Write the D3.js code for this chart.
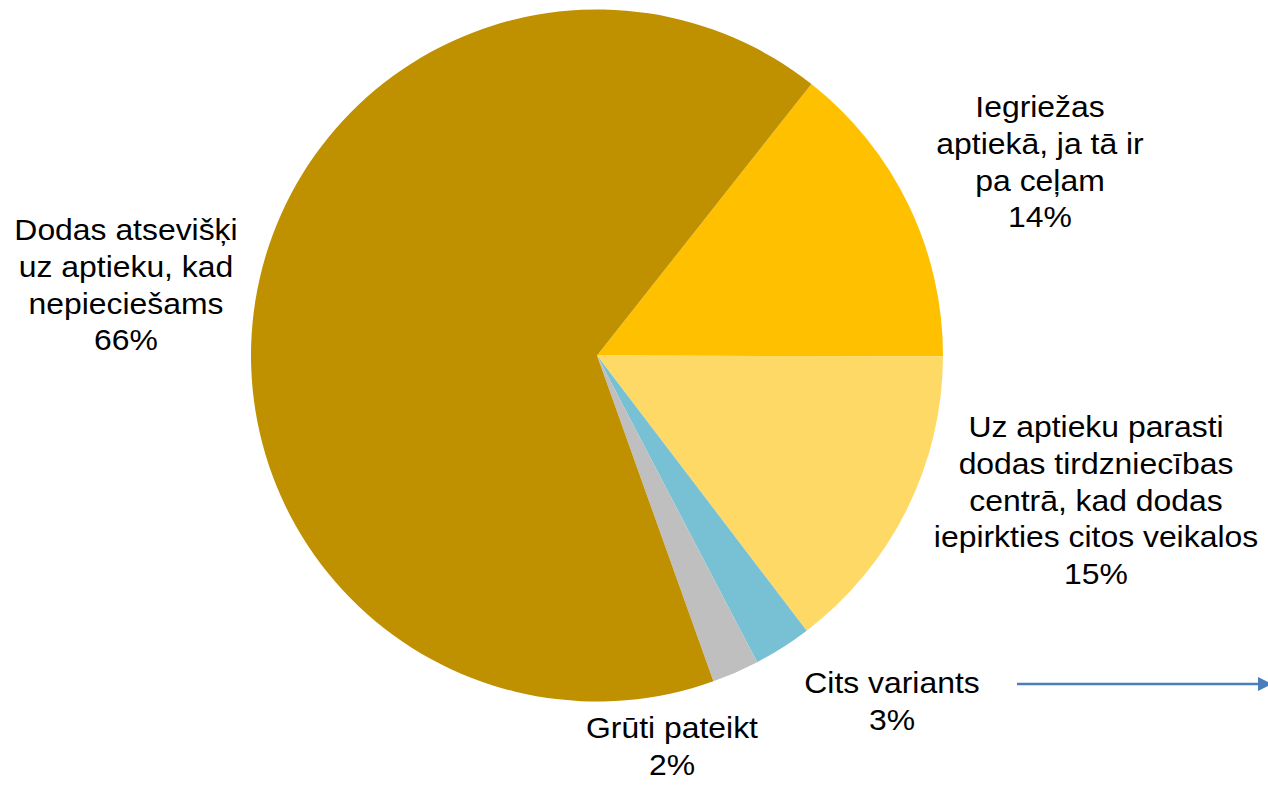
<!DOCTYPE html>
<html>
<head>
  <meta charset="utf-8">
  <title>Pie</title>
  <script src="https://cdn.jsdelivr.net/npm/d3@7"></script>
  <style>
    body { margin: 0; background: #fff; }
    text { font-family: "Liberation Sans", Arial, sans-serif; fill: #000; }
  </style>
</head>
<body>
<div id="chart"></div>
<script>
// data
var categories = ["Iegriežas aptiekā, ja tā ir pa ceļam",
                  "Uz aptieku parasti dodas tirdzniecības centrā, kad dodas iepirkties citos veikalos",
                  "Cits variants",
                  "Grūti pateikt",
                  "Dodas atsevišķi uz aptieku, kad nepieciešams"];
var values = [14.4, 14.6, 2.7, 2.2, 66.1];
var labelLines = [
  ["Iegriežas", "aptiekā, ja tā ir", "pa ceļam"],
  ["Uz aptieku parasti", "dodas tirdzniecības", "centrā, kad dodas", "iepirkties citos veikalos"],
  ["Cits variants"],
  ["Grūti pateikt"],
  ["Dodas atsevišķi", "uz aptieku, kad", "nepieciešams"]
];
var colors = ["#FFC000", "#FFD966", "#78C1D4", "#BFBFBF", "#BF9000"];

// layout
var W = 1268, H = 786;
var cx = 597, cy = 355.5, R = 346;
var fontSize = 29, lineH = 36.8, stretch = 1.1;
// label anchor: center x, baseline of first line
var labelPos = [[1040, 117], [1096, 437], [892, 693], [672, 738], [126, 240]];

var svg = d3.select("#chart").append("svg").attr("width", W).attr("height", H);

var pie = d3.pie().sort(null).value(function(d){ return d; })
  .startAngle(38.3 * Math.PI / 180)
  .endAngle((38.3 + 360) * Math.PI / 180);
var arc = d3.arc().innerRadius(0).outerRadius(R);

var g = svg.append("g").attr("transform", "translate(" + cx + "," + cy + ")");
g.selectAll("path").data(pie(values)).enter().append("path")
  .attr("d", arc)
  .attr("fill", function(d, i){ return colors[i]; });

// labels (text in the original is a bit wider than plain Arial)
var fmt = d3.format(".0f");
var lab = svg.selectAll("g.lab").data(values).enter().append("g")
  .attr("class", "lab")
  .attr("transform", function(d, i){
    return "translate(" + labelPos[i][0] + "," + labelPos[i][1] + ") scale(" + stretch + ",1)";
  })
  .append("text")
  .attr("text-anchor", "middle")
  .attr("font-size", fontSize);
lab.each(function(d, i){
  var t = d3.select(this);
  var lines = labelLines[i].concat([fmt(d) + "%"]);
  lines.forEach(function(s, k){
    t.append("tspan").attr("x", 0).attr("dy", k === 0 ? 0 : lineH).text(s);
  });
});

// arrow
svg.append("defs").append("marker")
  .attr("id", "arr").attr("viewBox", "0 0 10 10")
  .attr("refX", 10).attr("refY", 5)
  .attr("markerUnits", "userSpaceOnUse")
  .attr("markerWidth", 14).attr("markerHeight", 16)
  .attr("orient", "auto")
  .append("path").attr("d", "M0,0 L10,5 L0,10 Z").attr("fill", "#4A7EBB");
svg.append("line")
  .attr("x1", 1017).attr("y1", 684).attr("x2", 1272).attr("y2", 684)
  .attr("stroke", "#4A7EBB").attr("stroke-width", 2.6)
  .attr("marker-end", "url(#arr)");
</script>
</body>
</html>
